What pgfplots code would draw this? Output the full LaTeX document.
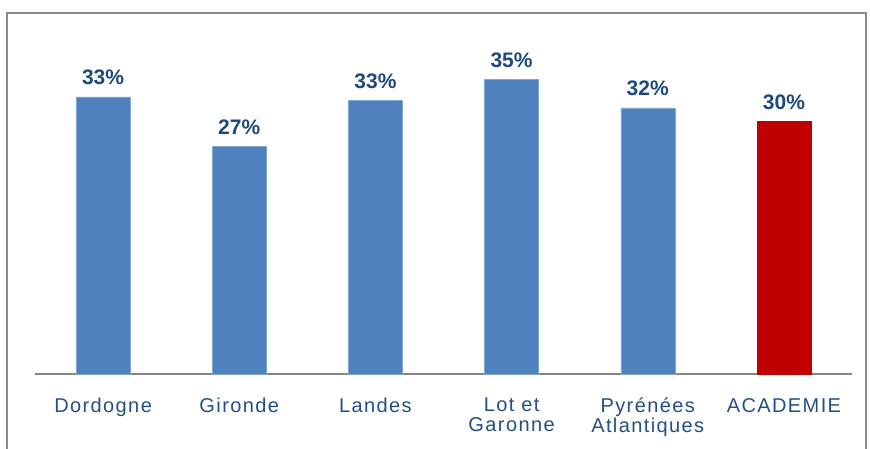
\documentclass[border=0pt]{standalone}
\usepackage{pgfplots}
\pgfplotsset{compat=1.18}
\usepackage{fontspec}
\setmainfont{Liberation Sans}
\newfontfamily\tickfont[LetterSpace=7]{Liberation Sans}
\definecolor{barblue}{HTML}{4F81BD}
\definecolor{barred}{HTML}{C00000}
\definecolor{lblblue}{HTML}{1F497D}
\definecolor{ticklblue}{HTML}{254F84}
\definecolor{framegray}{HTML}{8C8C8C}
\definecolor{axisgray}{HTML}{868686}
\begin{document}
\begin{tikzpicture}
\useasboundingbox (0,0) rectangle (870pt,448pt);
\clip (0,0) rectangle (870pt,448pt);
\draw[framegray, line width=2pt] (7pt,-20pt) -- (7pt,435pt) -- (866pt,435pt) -- (866pt,-20pt);
\begin{axis}[
  at={(35pt,74pt)}, anchor=south west,
  scale only axis, width=817pt, height=337pt,
  xmin=-0.5, xmax=5.5, ymin=0, ymax=40,
  axis x line=bottom, axis y line=none,
  axis line style={-, draw=axisgray, line width=1.5pt},
  xtick={0,1,2,3,4,5},
  xticklabels={Dordogne, Gironde, Landes, {Lot et\\Garonne}, {Pyrénées\\Atlantiques}, ACADEMIE},
  major tick length=0pt,
  ytick=\empty,
  xticklabel style={font=\tickfont\fontsize{20}{20}\selectfont, text=ticklblue, align=center, anchor=north, inner sep=0pt, yshift=-24pt},
  ybar, bar width=54pt, bar shift=0pt,
  nodes near coords, point meta=explicit symbolic,
  every node near coord/.append style={font=\bfseries\fontsize{21}{22}\selectfont, text=lblblue, anchor=base, inner sep=0pt, yshift=12pt},
  clip=false,
]
\addplot[fill=barblue, draw=barblue!70!white, line width=0.5pt] coordinates {
  (0,32.9) [33\%]
  (1,27.0) [27\%]
  (2,32.5) [33\%]
  (3,35.0) [35\%]
  (4,31.6) [32\%]
};
\addplot[fill=barred, draw=barred, line width=0.5pt] coordinates {
  (5,30.0) [30\%]
};
\end{axis}
\end{tikzpicture}
\end{document}
